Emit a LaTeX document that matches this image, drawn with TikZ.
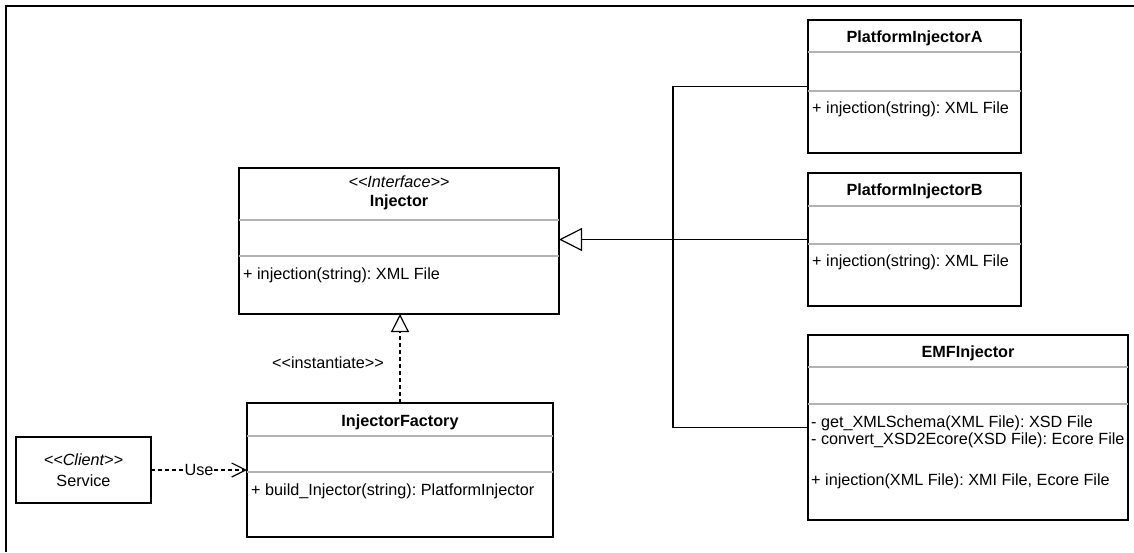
\documentclass[tikz,border=0pt]{standalone}
\usepackage{fontspec}
\setmainfont{Liberation Sans}
\usetikzlibrary{arrows.meta}
\newcommand\dlt{<\kern0pt<}
\newcommand\dgt{>\kern0pt>}
\frenchspacing
\begin{document}
\frenchspacing
\begin{tikzpicture}[x=1pt,y=-1pt,
  box/.style={draw=black,line width=1.3pt,fill=white,inner sep=0pt,outer sep=0pt},
  div/.style={draw=black!30,line width=1.2pt},
  txt/.style={inner sep=0pt,anchor=base west,font=\fontsize{16.2}{17}\selectfont},
  ttl/.style={inner sep=0pt,anchor=base,font=\fontsize{16.2}{17}\selectfont\bfseries},
  ctr/.style={inner sep=0pt,anchor=base,font=\fontsize{16.2}{17}\selectfont},
  ster/.style={inner sep=0pt,anchor=base,font=\fontsize{16.2}{17}\selectfont\itshape},
  conn/.style={line width=1.2pt},
  dsh/.style={line width=1.2pt,dash pattern=on 4pt off 3pt},
]
\useasboundingbox (0,0) rectangle (1134,552);
\fill[white] (0,0) rectangle (1134,552);
% frame (only top and left edges visible)
\coordinate (f1) at (6,552);
\coordinate (f2) at (6,6);
\coordinate (f3) at (1134,6);
\draw[line width=1.6pt] (f1) -- (f2) -- (f3);

% Injector
\node[box,minimum width=320pt,minimum height=146pt] (inj) at (399,241) {};
\draw[div] (inj.west |- 0,220) -- (inj.east |- 0,220);
\draw[div] (inj.west |- 0,256) -- (inj.east |- 0,256);
\node[ster] (injs) at (399,187) {\dlt Interface\dgt};
\node[ttl] (injt) at (399,206) {Injector};
\node[txt] (injm) at (243,279) {+ injection(string): XML File};

% PlatformInjectorA
\node[box,minimum width=213pt,minimum height=133pt] (pa) at (914.5,86.5) {};
\draw[div] (pa.west |- 0,52) -- (pa.east |- 0,52);
\draw[div] (pa.west |- 0,91) -- (pa.east |- 0,91);
\node[ttl] (pat) at (914.5,42) {PlatformInjectorA};
\node[txt] (pam) at (812,113) {+ injection(string): XML File};

% PlatformInjectorB
\node[box,minimum width=213pt,minimum height=133pt] (pb) at (914.5,239.5) {};
\draw[div] (pb.west |- 0,206) -- (pb.east |- 0,206);
\draw[div] (pb.west |- 0,244) -- (pb.east |- 0,244);
\node[ttl] (pbt) at (914.5,195) {PlatformInjectorB};
\node[txt] (pbm) at (812,266) {+ injection(string): XML File};

% EMFInjector
\node[box,minimum width=320pt,minimum height=185pt] (emf) at (968,427.5) {};
\draw[div] (emf.west |- 0,367) -- (emf.east |- 0,367);
\draw[div] (emf.west |- 0,404) -- (emf.east |- 0,404);
\node[ttl] (emft) at (968,357) {EMFInjector};
\node[txt] (emfm1) at (811,427) {- get\_XMLSchema(XML File): XSD File};
\node[txt] (emfm2) at (811,444) {- convert\_XSD2Ecore(XSD File): Ecore File};
\node[txt] (emfm3) at (811,485) {+ injection(XML File): XMI File, Ecore File};

% InjectorFactory
\node[box,minimum width=306pt,minimum height=134pt] (fac) at (400,470) {};
\draw[div] (fac.west |- 0,436) -- (fac.east |- 0,436);
\draw[div] (fac.west |- 0,472) -- (fac.east |- 0,472);
\node[ttl] (fact) at (400,426) {InjectorFactory};
\node[txt] (facm) at (251,495) {+ build\_Injector(string): PlatformInjector};

% Service
\node[box,minimum width=135pt,minimum height=66pt] (svc) at (83.5,470) {};
\node[ster] (svcs) at (83.5,465) {\dlt Client\dgt};
\node[ctr] (svct) at (83.5,486) {Service};

% connectors
\coordinate (trunk) at (673,0);
\draw[conn] (pa.west) -- (pa.west -| trunk) -- (emf.west -| trunk) -- (emf.west);
\draw[conn,-{Triangle[open,length=23pt,width=23pt]}] (pb.west) -- (inj.east |- pb.west);
\draw[dsh,-{Triangle[open,length=18pt,width=18pt]}] (fac.north) -- (fac.north |- inj.south);
\node[ctr] (inst) at (328,368) {\dlt instantiate\dgt};
\draw[dsh,-{Straight Barb[length=14pt,width=14pt]}] (svc.east) -- node[fill=white,inner sep=0.5pt,font=\fontsize{16.2}{17}\selectfont] (use) {Use} (fac.west);
\end{tikzpicture}
\end{document}
